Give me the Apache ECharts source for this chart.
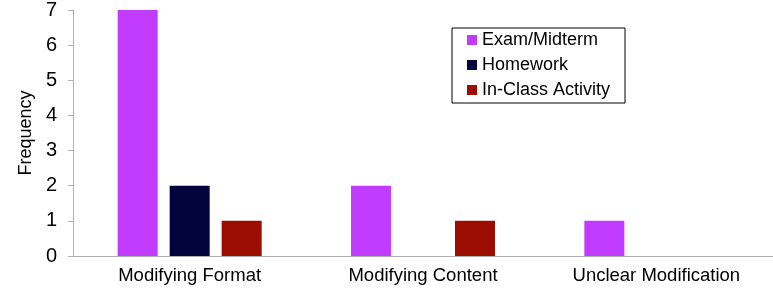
<!DOCTYPE html>
<html>
<head>
<meta charset="utf-8">
<script src="https://cdn.jsdelivr.net/npm/echarts@6/dist/echarts.min.js"></script>
<style>
  html, body { margin: 0; padding: 0; background: #fff; }
  #chart { width: 773px; height: 290px; }
</style>
</head>
<body>
<div id="chart"></div>
<script>
// data
const categories = ['Modifying Format', 'Modifying Content', 'Unclear Modification'];
const examMidterm = [7, 2, 1];
const homework = [2, 0, 0];
const inClassActivity = [1, 1, 0];

const myChart = echarts.init(document.getElementById('chart'));
const font = 'Liberation Sans, Arial, sans-serif';

myChart.setOption({
  animation: false,
  color: ['#c13cff', '#02033a', '#9a0d00'],
  textStyle: { fontFamily: font },
  grid: { left: 73, right: 0, top: 10, bottom: 34, containLabel: false },
  legend: {
    orient: 'vertical',
    left: 452,
    top: 28,
    itemWidth: 10,
    itemHeight: 10,
    itemGap: 7,
    padding: [3, 15, 4, 15],
    borderColor: '#000',
    borderWidth: 1,
    icon: 'rect',
    textStyle: { fontSize: 18, color: '#000', fontFamily: font },
    data: ['Exam/Midterm', 'Homework', 'In-Class Activity']
  },
  xAxis: {
    type: 'category',
    data: categories,
    axisLine: { lineStyle: { color: '#b0b0b0' } },
    axisTick: { show: false },
    axisLabel: { color: '#000', fontSize: 18.5, margin: 10, fontFamily: font }
  },
  yAxis: {
    type: 'value',
    min: 0,
    max: 7,
    interval: 1,
    name: 'Frequency',
    nameLocation: 'middle',
    nameGap: 37,
    nameTextStyle: { color: '#000', fontSize: 18, fontFamily: font },
    axisLine: { show: true, lineStyle: { color: '#b0b0b0' } },
    axisTick: { show: true, length: 5, lineStyle: { color: '#b0b0b0' } },
    splitLine: { show: false },
    axisLabel: { color: '#000', fontSize: 20, margin: 16, fontFamily: font }
  },
  series: [
    { name: 'Exam/Midterm', type: 'bar', data: examMidterm, barWidth: 40, barGap: '30%' },
    { name: 'Homework', type: 'bar', data: homework, barWidth: 40, barGap: '30%' },
    { name: 'In-Class Activity', type: 'bar', data: inClassActivity, barWidth: 40, barGap: '30%' }
  ]
});
</script>
</body>
</html>
